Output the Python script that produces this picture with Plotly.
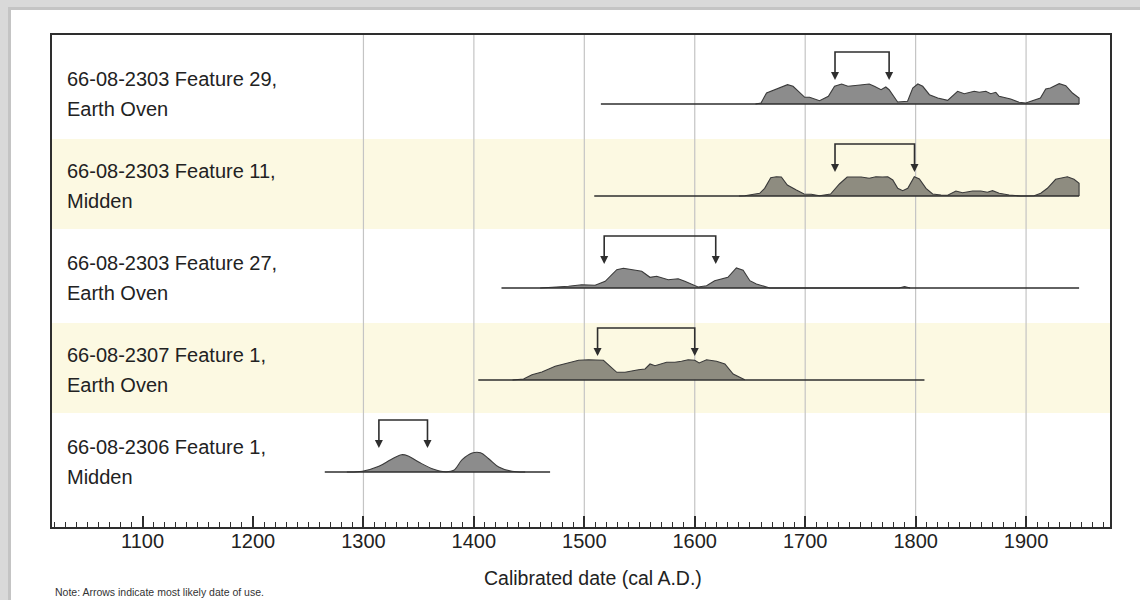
import plotly.graph_objects as go

# ---------------- data ----------------
labels_line1 = ["66-08-2303 Feature 29,", "66-08-2303 Feature 11,", "66-08-2303 Feature 27,",
                "66-08-2307 Feature 1,", "66-08-2306 Feature 1,"]
labels_line2 = ["Earth Oven", "Midden", "Earth Oven", "Earth Oven", "Midden"]

range_start = [1515, 1509, 1425, 1404, 1265]
range_end = [1948, 1948, 1948, 1808, 1469]

arrow_from = [1727, 1727, 1518, 1512, 1314]
arrow_to = [1776, 1799, 1619, 1600, 1358]

r1_years = [1655, 1660, 1665, 1669, 1677, 1684, 1689, 1693.5, 1699.6, 1704, 1713, 1721, 1726.6, 1733,
            1738.7, 1747.7, 1758, 1762.6, 1768.7, 1773, 1776, 1783.7, 1792.7, 1797.4, 1802, 1806.4,
            1812.5, 1820, 1829, 1838, 1844, 1853, 1857.6, 1863.6, 1868, 1872.6, 1875.6, 1886, 1893.7,
            1899.7, 1905.8, 1913, 1917.8, 1922, 1930, 1936, 1942, 1948, 1948]
r1_prob = [0, 1, 11, 12.7, 16, 19.3, 17.7, 12.7, 6.7, 6.7, 3.3, 7.7, 17.7, 20, 17.7, 18.7, 20, 17.7,
           14.3, 17, 14.3, 2, 2.7, 16, 20, 17.7, 9.3, 6, 3.7, 12.7, 10.3, 12.7, 11.7, 12.7, 10.3, 11.7,
           7.7, 5, 1.7, 1, 3.3, 6, 15, 16, 20.3, 18.3, 11, 6, 0]

r2_years = [1640, 1645.3, 1658.8, 1663.3, 1668.8, 1673.9, 1678.4, 1683.8, 1692, 1699, 1705.5, 1713,
            1723, 1731, 1738, 1750.6, 1758, 1764, 1770, 1774.8, 1779.3, 1783.8, 1788.3, 1792.9,
            1798.8, 1803.4, 1809.4, 1815.4, 1823, 1829, 1836.5, 1842.5, 1851.6, 1859, 1865, 1869.6,
            1875.7, 1884.7, 1895.2, 1907.3, 1913.3, 1919.3, 1926.8, 1937.4, 1943.4, 1948, 1948]
r2_prob = [0, 0.3, 2.7, 7.7, 18.3, 19.3, 19, 11, 6, 2, 1.7, 0.3, 2, 12, 19, 19, 17.7, 19.3, 19, 19.3,
           16, 7.7, 5.3, 7.7, 19.3, 17, 7.7, 2, 1, 0.7, 5, 3.3, 5, 5, 3.7, 5.3, 2.7, 1, 0, 0.3, 2.7,
           7.7, 16.7, 19.3, 16.7, 12.7, 0]

r3_years = [1460, 1467.7, 1485.7, 1497.7, 1509.8, 1518.9, 1529.4, 1535.4, 1546, 1552, 1559.5, 1565.5,
            1576, 1585, 1591, 1603, 1610.7, 1618, 1630, 1637.7, 1643.8, 1649.9, 1655.8, 1668,
            1785, 1790, 1795]
r3_prob = [0, 0.3, 1.7, 3.3, 2.7, 6.7, 18.3, 19.7, 17.7, 16.7, 10.7, 11.7, 8.3, 9.3, 6.7, 1, 2.3,
           7.3, 10.7, 20, 17.7, 7.3, 4, 0, 0, 1.5, 0]

r4_years = [1435, 1445, 1452.6, 1461.6, 1473.6, 1482.7, 1494.8, 1503.8, 1517.3, 1529.4, 1536.9, 1549,
            1555, 1559.5, 1564, 1574.5, 1582, 1588, 1594, 1600, 1604, 1610.7, 1619.7, 1627.3, 1634.8,
            1645.3]
r4_prob = [0, 1, 5.3, 8, 13.7, 16, 19.7, 20.3, 19.7, 7.7, 7.7, 10.3, 11, 16, 14.3, 17.7, 17.7, 18.7,
           20.3, 19.7, 17, 20.3, 18.7, 16, 6, 0.3]

r5_years = [1285, 1299, 1314, 1324.7, 1334.6, 1341, 1350, 1362.3, 1374.3, 1381.8, 1389.4, 1398.4,
            1406, 1413.4, 1422.5, 1434.5, 1446.5]
r5_prob = [0, 0.7, 5.7, 12.3, 17.3, 15.7, 10, 3.3, 0.3, 1.7, 12.3, 19, 19.3, 13.3, 5, 0.7, 0]

gridline_years = [1300, 1400, 1500, 1600, 1700, 1800, 1900]

series_years = [r1_years, r2_years, r3_years, r4_years, r5_years]
series_prob = [r1_prob, r2_prob, r3_prob, r4_prob, r5_prob]

# ---------------- layout constants ----------------
W, H = 1140, 600
ML, MR, MT, MB = 52, 30, 35, 73
PW, PH = W - ML - MR, H - MT - MB
ROW_PX = 92.0
SCALE = 1.0 / ROW_PX              # probability units (px) -> y units
Y_MIN, Y_MAX = -55 / ROW_PX, 4 + 69 / ROW_PX
TIP = 24 * SCALE
TOP = 52 * SCALE
DARK = "#2e2e2e"
FONT = "Liberation Sans, Arial, sans-serif"


def px_x(p):
    return (p - ML) / PW


def px_y(p):
    return (H - MB - p) / PH


n = len(labels_line1)
baselines = [n - 1 - i for i in range(n)]
banded = [i % 2 == 1 for i in range(n)]

fig = go.Figure()

shapes = []
# white panel on textured-gray page
shapes.append(dict(type="rect", xref="paper", yref="paper", x0=px_x(8), x1=px_x(1160),
                   y0=px_y(640), y1=px_y(7), fillcolor="#c4c4c4", line=dict(width=0), layer="below"))
shapes.append(dict(type="rect", xref="paper", yref="paper", x0=px_x(11), x1=px_x(1160),
                   y0=px_y(640), y1=px_y(10), fillcolor="#ffffff", line=dict(width=0), layer="below"))
# alternating bands
for i in range(n):
    if banded[i]:
        b = baselines[i]
        shapes.append(dict(type="rect", xref="paper", yref="y", x0=0, x1=1,
                           y0=b - 0.36, y1=b + 0.62, fillcolor="#fcf9e2",
                           line=dict(width=0), layer="below"))
# gridlines
for g in gridline_years:
    shapes.append(dict(type="line", xref="x", yref="paper", x0=g, x1=g, y0=0, y1=1,
                       line=dict(color="#c4c4c4", width=1.2), layer="below"))

annotations = []
for i in range(n):
    b = baselines[i]
    fill = "#8e8c80" if banded[i] else "#8c8c8c"
    xs = series_years[i]
    ys = [b + v * SCALE for v in series_prob[i]]
    shape_mode = "spline" if i == n - 1 else "linear"
    fig.add_trace(go.Scatter(x=xs, y=ys, mode="lines", fill="toself", fillcolor=fill,
                             line=dict(color="#3a3a3a", width=1.1, shape=shape_mode),
                             hoverinfo="skip", showlegend=False))
    # baseline of calibrated range
    fig.add_trace(go.Scatter(x=[range_start[i], range_end[i]], y=[b, b], mode="lines",
                             line=dict(color=DARK, width=1.6), hoverinfo="skip", showlegend=False))
    # bracket
    a1, a2 = arrow_from[i], arrow_to[i]
    fig.add_trace(go.Scatter(x=[a1, a1, a2, a2], y=[b + TIP + 0.04, b + TOP, b + TOP, b + TIP + 0.04],
                             mode="lines", line=dict(color=DARK, width=1.6),
                             hoverinfo="skip", showlegend=False))
    for a in (a1, a2):
        annotations.append(dict(x=a, y=b + TIP, ax=a, ay=b + TIP + 0.08, xref="x", yref="y",
                                axref="x", ayref="y", text="", showarrow=True, arrowhead=2,
                                arrowsize=1.0, arrowwidth=1.6, arrowcolor=DARK))
    # row labels
    annotations.append(dict(x=px_x(ML + 13), y=b + 25 / ROW_PX, xref="paper", yref="y",
                            xanchor="left", yanchor="middle", showarrow=False,
                            text=labels_line1[i], font=dict(family=FONT, size=20, color="#222")))
    annotations.append(dict(x=px_x(ML + 13), y=b - 5 / ROW_PX, xref="paper", yref="y",
                            xanchor="left", yanchor="middle", showarrow=False,
                            text=labels_line2[i], font=dict(family=FONT, size=20, color="#222")))

annotations.append(dict(x=px_x(593), y=px_y(578), xref="paper", yref="paper", xanchor="center",
                        yanchor="middle", showarrow=False, text="Calibrated date (cal A.D.)",
                        font=dict(family=FONT, size=19.5, color="#222")))
annotations.append(dict(x=px_x(53), y=px_y(592), xref="paper", yref="paper", xanchor="left",
                        yanchor="middle", showarrow=False,
                        text="Note: Arrows indicate most likely date of use.",
                        font=dict(family=FONT, size=10.5, color="#333")))

fig.update_layout(
    width=W, height=H,
    margin=dict(l=ML, r=MR, t=MT, b=MB, pad=0),
    paper_bgcolor="#d9d9d9",
    plot_bgcolor="rgba(0,0,0,0)",
    shapes=shapes,
    annotations=annotations,
    showlegend=False,
    xaxis=dict(range=[1018, 1976], tick0=0, dtick=100, ticks="inside", ticklen=11,
               tickwidth=1.5, tickcolor=DARK, showgrid=False, zeroline=False,
               showline=True, linecolor=DARK, linewidth=2, mirror=True,
               ticklabelstandoff=-5,
               tickfont=dict(family=FONT, size=20, color="#222"),
               minor=dict(dtick=10, tick0=0, ticks="inside", ticklen=5, tickwidth=1,
                          tickcolor=DARK, showgrid=False)),
    yaxis=dict(range=[Y_MIN, Y_MAX], showticklabels=False, ticks="", showgrid=False,
               zeroline=False, showline=True, linecolor=DARK, linewidth=2, mirror=True),
)

fig.write_html("out.html",
               config={"displayModeBar": False},
               post_script="document.body.style.margin='0';document.body.style.overflow='hidden';"
                           "document.body.style.background='#d9d9d9';")
